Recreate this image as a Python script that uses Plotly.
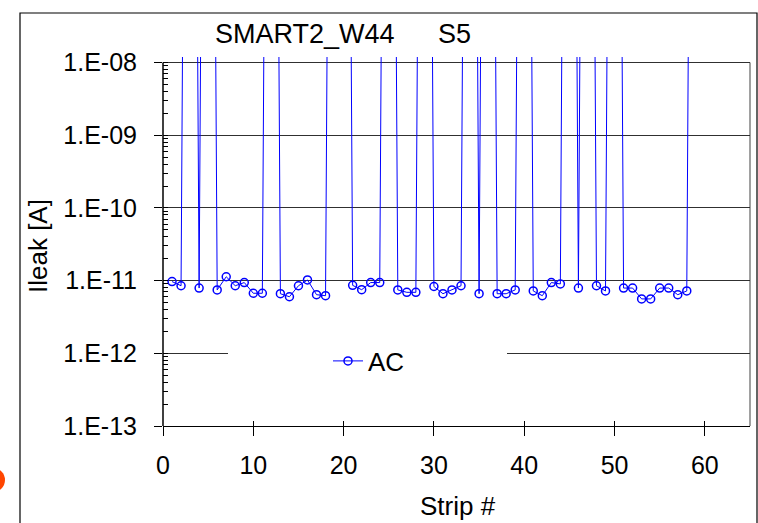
import plotly.graph_objects as go

# ---------------- data ----------------
OVER = 1e9  # reading above the chart's top (line runs off the plot)
strips = list(range(1, 60))
ileak_ac = [
    9.7e-12, 8.5e-12, OVER, 7.9e-12, OVER, 7.45e-12, 1.13e-11, 8.5e-12, 9.4e-12, 6.7e-12,   # 1-10
    6.7e-12, OVER, 6.6e-12, 6.0e-12, 8.5e-12, 1.02e-11, 6.4e-12, 6.2e-12, OVER, OVER,      # 11-20
    8.6e-12, 7.5e-12, 9.4e-12, 9.4e-12, OVER, 7.45e-12, 6.9e-12, 6.9e-12, OVER, 8.3e-12,   # 21-30
    6.6e-12, 7.45e-12, 8.5e-12, OVER, 6.6e-12, OVER, 6.6e-12, 6.6e-12, 7.45e-12, OVER,     # 31-40
    7.2e-12, 6.2e-12, 9.4e-12, 9.0e-12, OVER, 7.9e-12, OVER, 8.5e-12, 7.2e-12, OVER,       # 41-50
    7.9e-12, 7.9e-12, 5.6e-12, 5.6e-12, 7.9e-12, 7.9e-12, 6.4e-12, 7.2e-12, OVER,          # 51-59
]
series_name = "AC"
title_left = "SMART2_W44"
title_right = "S5"
x_title = "Strip #"
y_title = "Ileak [A]"
x_ticks = [0, 10, 20, 30, 40, 50, 60]
y_tickvals = [1e-13, 1e-12, 1e-11, 1e-10, 1e-9, 1e-8]
y_ticktext = ["1.E-13", "1.E-12", "1.E-11", "1.E-10", "1.E-09", "1.E-08"]

# ---------------- layout helpers ----------------
W, H = 758, 523
ML, MR, MT, MB = 163, 8, 57, 97
PW, PH = W - ML - MR, H - MT - MB
YLO, YHI = -13, -7.924
FONT = "Liberation Sans, Arial, sans-serif"
BLUE = "#0000FF"


def px_x(p):
    return (p - ML) / PW


def px_y(p):
    return (H - MB - p) / PH


y_top_paper = (-8 - YLO) / (YHI - YLO)

fig = go.Figure()
fig.add_trace(go.Scatter(
    x=strips, y=ileak_ac, name=series_name, mode="lines+markers",
    line=dict(color=BLUE, width=1),
    marker=dict(symbol="circle-open", size=8, color=BLUE, line=dict(width=1.5, color=BLUE)),
    showlegend=True,
))

fig.update_layout(
    width=W, height=H,
    margin=dict(l=ML, r=MR, t=MT, b=MB, pad=0),
    paper_bgcolor="white", plot_bgcolor="white",
    font=dict(family=FONT, size=25, color="black"),
    showlegend=True,
    legend=dict(
        x=px_x(328), xanchor="left", y=px_y(361), yanchor="middle",
        bgcolor="rgba(0,0,0,0)", borderwidth=0,
        font=dict(family=FONT, size=26, color="black"),
        tracegroupgap=0,
    ),
    xaxis=dict(
        range=[0, 65], tickvals=x_ticks, ticks="outside", ticklen=9, tickwidth=1,
        tickcolor="black", showline=True, linecolor="black", linewidth=1,
        showgrid=False, zeroline=False, ticklabelstandoff=8,
        tickfont=dict(family=FONT, size=25, color="black"),
    ),
    xaxis2=dict(
        range=[0, 65], overlaying="x", anchor="y", side="bottom",
        tickvals=x_ticks, ticks="inside", ticklen=5, tickwidth=1, tickcolor="black",
        showticklabels=False, showgrid=False, zeroline=False, showline=False,
    ),
    yaxis=dict(
        type="log", range=[YLO, YHI], tickvals=y_tickvals, ticktext=y_ticktext,
        ticks="outside", ticklen=8, tickwidth=1, tickcolor="black",
        showline=False, showgrid=True, gridcolor="#303030", gridwidth=1,
        zeroline=False, ticklabelstandoff=12,
        tickfont=dict(family=FONT, size=25, color="black"),
        minor=dict(ticks="inside", ticklen=5, tickwidth=1, tickcolor="black",
                   dtick="D1", showgrid=False),
    ),
)

# invisible trace so the overlay axis (inside half of crossing ticks) is drawn
fig.add_trace(go.Scatter(x=[None], y=[None], xaxis="x2", yaxis="y",
                         showlegend=False, hoverinfo="skip"))

shapes = [
    # white box behind the legend (hides the gridline there; no data in this region)
    dict(type="rect", xref="paper", yref="paper", x0=px_x(228), x1=px_x(507),
         y0=px_y(378), y1=px_y(342), fillcolor="white", line=dict(width=0), layer="above"),
    # plot-area border (gray) on the right
    dict(type="line", xref="paper", yref="paper", x0=1, x1=1, y0=0, y1=y_top_paper,
         line=dict(color="#808080", width=1.5), layer="below"),
    # y axis line (black) up to 1E-08 only
    dict(type="line", xref="paper", yref="paper", x0=0, x1=0, y0=0, y1=y_top_paper,
         line=dict(color="black", width=1.5), layer="above"),
    # outer chart border
    dict(type="rect", xref="paper", yref="paper", x0=px_x(20), x1=px_x(757),
         y0=px_y(540), y1=px_y(13), line=dict(color="black", width=1.2),
         fillcolor="rgba(0,0,0,0)", layer="above"),
    # orange dot at the left edge
    dict(type="circle", xref="paper", yref="paper", x0=px_x(-19), x1=px_x(5),
         y0=px_y(492), y1=px_y(468), fillcolor="#FF4500", line=dict(width=0), layer="above"),
]
fig.update_layout(shapes=shapes)

annotations = [
    dict(text=title_left, xref="paper", yref="paper", x=px_x(213), y=px_y(34.5),
         xanchor="left", yanchor="middle", showarrow=False, font=dict(family=FONT, size=27)),
    dict(text=title_right, xref="paper", yref="paper", x=px_x(436), y=px_y(34.5),
         xanchor="left", yanchor="middle", showarrow=False, font=dict(family=FONT, size=27)),
    dict(text=x_title, xref="paper", yref="paper", x=px_x(457.5), y=px_y(506),
         xanchor="center", yanchor="middle", showarrow=False, font=dict(family=FONT, size=26)),
    dict(text=y_title, xref="paper", yref="paper", x=px_x(38), y=px_y(246),
         xanchor="center", yanchor="middle", textangle=-90, showarrow=False,
         font=dict(family=FONT, size=26)),
]
fig.update_layout(annotations=annotations)

fig.write_html("out.html")
